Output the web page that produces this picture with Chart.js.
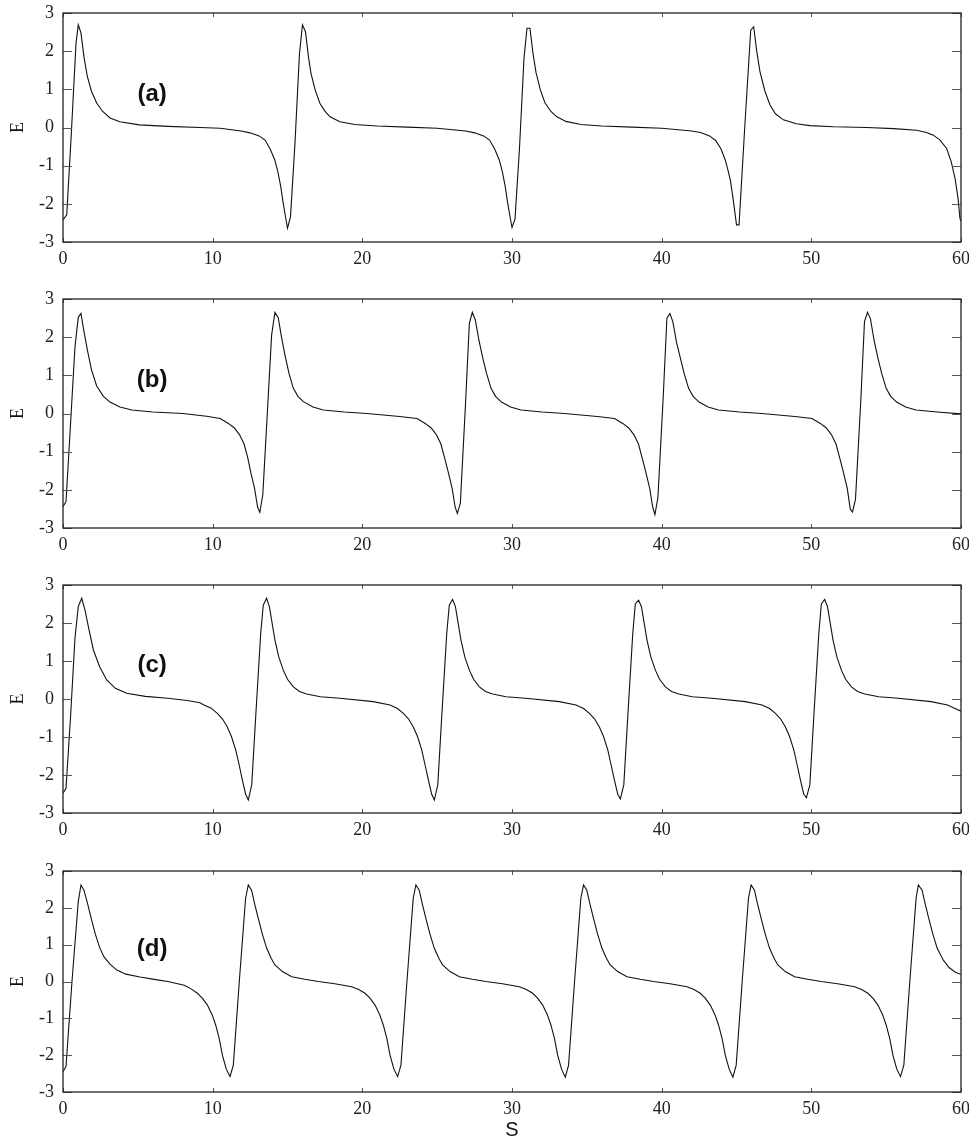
<!DOCTYPE html>
<html>
<head>
<meta charset="utf-8">
<script src="https://cdn.jsdelivr.net/npm/chart.js@4.4.1/dist/chart.umd.min.js"></script>
<style>
  body { margin: 0; background: #fff; }
  .panel { position: absolute; left: 0; }
</style>
</head>
<body>
<canvas id="chartA" class="panel" width="969" height="286" style="top:0px"></canvas>
<canvas id="chartB" class="panel" width="969" height="286" style="top:286px"></canvas>
<canvas id="chartC" class="panel" width="969" height="286" style="top:572px"></canvas>
<canvas id="chartD" class="panel" width="969" height="286" style="top:858px"></canvas>
<script>
// values: S on the x axis, E on the y axis
const xTicks = [0, 10, 20, 30, 40, 50, 60];
const yTicks = [-3, -2, -1, 0, 1, 2, 3];
const panelLabels = ['(a)', '(b)', '(c)', '(d)'];

const sA = [0, 0.25, 0.55, 0.87, 1.02, 1.2, 1.4, 1.63, 1.9, 2.25, 2.65, 3.14, 3.8, 5.1, 7, 9.15, 10.5,
    11.9, 12.5, 13.1, 13.5, 13.85, 14.15, 14.35, 14.55, 14.7, 14.85, 15.0, 15.2, 15.5, 15.8, 16.0, 16.2, 16.4, 16.57, 16.85, 17.17, 17.5, 17.84, 18.5, 19.5, 21, 23, 25,
    26.9, 27.5, 28.1, 28.5, 28.85, 29.15, 29.35, 29.55, 29.7, 29.85, 30.0, 30.2, 30.5, 30.8, 31.0, 31.2, 31.4, 31.6, 31.9, 32.2, 32.6, 33, 33.6, 34.6, 36, 38, 40,
    42, 42.6, 43.2, 43.6, 43.95, 44.25, 44.45, 44.6, 44.8, 45.0, 45.17, 45.55, 45.95, 46.15, 46.35, 46.57, 46.9, 47.24, 47.6, 48.13, 49, 49.9, 51.5, 53.7, 55.5,
    57.04, 57.7, 58.15, 58.6, 59.04, 59.35, 59.6, 59.8, 59.93, 60];
const eA = [-2.42, -2.29, -0.2, 2.21, 2.69, 2.48, 1.85, 1.33, 0.95, 0.64, 0.42, 0.25, 0.15, 0.07, 0.03, 0.0, -0.02,
    -0.09, -0.14, -0.22, -0.33, -0.57, -0.85, -1.15, -1.55, -1.95, -2.3, -2.64, -2.34, -0.41, 1.94, 2.69, 2.51, 1.85, 1.42, 0.98, 0.63, 0.43, 0.28, 0.15, 0.08, 0.04, 0.01, -0.02,
    -0.09, -0.14, -0.22, -0.33, -0.57, -0.85, -1.15, -1.55, -1.95, -2.3, -2.62, -2.4, -0.55, 1.8, 2.6, 2.6, 1.95, 1.45, 0.98, 0.65, 0.42, 0.28, 0.16, 0.08, 0.04, 0.01, -0.02,
    -0.09, -0.13, -0.22, -0.34, -0.55, -0.85, -1.15, -1.4, -1.95, -2.55, -2.55, 0.0, 2.55, 2.64, 2.0, 1.46, 0.95, 0.59, 0.36, 0.2, 0.1, 0.05, 0.02, 0.0, -0.03,
    -0.07, -0.13, -0.2, -0.33, -0.55, -0.9, -1.33, -1.85, -2.38, -2.45];

const sB = [0, 0.2, 0.5, 0.8, 1.02, 1.2, 1.4, 1.63, 1.9, 2.25, 2.7, 3.14, 3.8, 4.6, 6, 8, 9.6,
    10.5, 11.05, 11.45, 11.8, 12.1, 12.35, 12.55, 12.8, 13.0, 13.15, 13.35, 13.65, 13.94, 14.16, 14.38, 14.6, 14.83, 15.1, 15.39, 15.7, 16.06, 16.7, 17.39, 18.8, 20.3, 22.5,
    23.65, 24.2, 24.6, 24.95, 25.25, 25.5, 25.75, 26.0, 26.2, 26.35, 26.55, 26.9, 27.15, 27.35, 27.55, 27.8, 28.05, 28.3, 28.6, 28.9, 29.3, 29.9, 30.6, 32, 33.5, 35.7,
    36.85, 37.4, 37.8, 38.15, 38.45, 38.7, 38.95, 39.2, 39.4, 39.55, 39.75, 40.1, 40.35, 40.55, 40.75, 41.0, 41.25, 41.5, 41.8, 42.1, 42.5, 43.1, 43.8, 45.2, 46.7, 48.9,
    50.05, 50.6, 51.0, 51.35, 51.65, 51.9, 52.15, 52.4, 52.6, 52.75, 52.95, 53.3, 53.55, 53.75, 53.95, 54.2, 54.45, 54.7, 55.0, 55.3, 55.7, 56.3, 57, 58.4, 60];
const eB = [-2.44, -2.31, -0.3, 1.75, 2.52, 2.62, 2.15, 1.66, 1.15, 0.72, 0.45, 0.3, 0.17, 0.09, 0.04, 0.0, -0.07,
    -0.13, -0.26, -0.38, -0.56, -0.8, -1.17, -1.55, -1.96, -2.45, -2.59, -2.13, 0.0, 2.06, 2.65, 2.51, 2.0, 1.53, 1.05, 0.66, 0.45, 0.31, 0.17, 0.09, 0.04, 0.0, -0.08,
    -0.13, -0.26, -0.38, -0.56, -0.8, -1.17, -1.55, -1.96, -2.45, -2.62, -2.35, 0.3, 2.36, 2.65, 2.45, 1.9, 1.45, 1.05, 0.66, 0.45, 0.3, 0.17, 0.09, 0.04, 0.0, -0.08,
    -0.13, -0.26, -0.38, -0.56, -0.8, -1.17, -1.55, -1.96, -2.45, -2.65, -2.2, 0.4, 2.5, 2.62, 2.4, 1.85, 1.45, 1.05, 0.66, 0.45, 0.3, 0.17, 0.09, 0.04, 0.0, -0.08,
    -0.13, -0.26, -0.38, -0.56, -0.8, -1.17, -1.55, -1.96, -2.5, -2.58, -2.25, 0.3, 2.4, 2.65, 2.48, 1.9, 1.45, 1.05, 0.66, 0.45, 0.3, 0.17, 0.09, 0.04, -0.01];

const sC = [0, 0.2, 0.5, 0.8, 1.02, 1.25, 1.47, 1.75, 2.03, 2.45, 2.92, 3.5, 4.25, 5.5, 7, 8.3, 9.15,
    9.42, 9.9, 10.31, 10.65, 10.97, 11.25, 11.54, 11.78, 11.98, 12.2, 12.38, 12.61, 12.9, 13.21, 13.38, 13.6, 13.79, 13.95, 14.16, 14.42, 14.72, 15.0, 15.39, 15.8, 16.28, 17.2, 18.5, 20.73,
    21.85, 22.35, 22.74, 23.08, 23.4, 23.68, 23.97, 24.2, 24.41, 24.63, 24.81, 25.04, 25.33, 25.64, 25.81, 26.03, 26.22, 26.38, 26.59, 26.85, 27.15, 27.43, 27.82, 28.23, 28.71, 29.6, 30.9, 33.16,
    34.28, 34.78, 35.17, 35.51, 35.83, 36.11, 36.4, 36.63, 36.84, 37.06, 37.24, 37.47, 37.76, 38.07, 38.24, 38.46, 38.65, 38.81, 39.02, 39.28, 39.58, 39.86, 40.25, 40.66, 41.14, 42.05, 43.35, 45.59,
    46.71, 47.21, 47.6, 47.94, 48.26, 48.54, 48.83, 49.06, 49.27, 49.49, 49.67, 49.9, 50.19, 50.5, 50.67, 50.89, 51.08, 51.24, 51.45, 51.71, 52.01, 52.29, 52.68, 53.09, 53.57, 54.5, 55.8, 58.0,
    59.1, 59.6, 60];
const eC = [-2.48, -2.35, -0.5, 1.6, 2.43, 2.65, 2.34, 1.8, 1.29, 0.85, 0.5, 0.28, 0.15, 0.07, 0.02, -0.04, -0.1,
    -0.16, -0.24, -0.38, -0.52, -0.73, -0.98, -1.34, -1.75, -2.13, -2.5, -2.66, -2.26, -0.3, 1.73, 2.47, 2.65, 2.43, 2.05, 1.55, 1.1, 0.76, 0.52, 0.32, 0.2, 0.13, 0.06, 0.02, -0.07,
    -0.16, -0.25, -0.38, -0.52, -0.73, -0.98, -1.34, -1.75, -2.13, -2.5, -2.66, -2.26, -0.3, 1.73, 2.47, 2.62, 2.43, 2.05, 1.55, 1.1, 0.76, 0.52, 0.32, 0.2, 0.13, 0.06, 0.02, -0.07,
    -0.16, -0.25, -0.38, -0.52, -0.73, -0.98, -1.34, -1.75, -2.13, -2.5, -2.63, -2.26, -0.3, 1.73, 2.5, 2.6, 2.43, 2.05, 1.55, 1.1, 0.76, 0.52, 0.32, 0.2, 0.13, 0.06, 0.02, -0.07,
    -0.16, -0.25, -0.38, -0.52, -0.73, -0.98, -1.34, -1.75, -2.13, -2.5, -2.6, -2.26, -0.3, 1.73, 2.5, 2.62, 2.43, 2.05, 1.55, 1.1, 0.76, 0.52, 0.32, 0.2, 0.13, 0.06, 0.02, -0.07,
    -0.16, -0.25, -0.32];

const sD = [0, 0.2, 0.6, 1.02, 1.2, 1.4, 1.65, 1.89, 2.15, 2.45, 2.75, 3.14, 3.6, 4.2, 5.14, 6.2, 7.0,
    8.1, 8.56, 8.98, 9.31, 9.65, 9.96, 10.2, 10.44, 10.65, 10.91, 11.16, 11.38, 11.78, 12.2, 12.38, 12.6, 12.81, 13.05, 13.31, 13.61, 13.91, 14.16, 14.66, 15.28, 16.16, 17.06, 18.16,
    19.29, 19.76, 20.18, 20.51, 20.85, 21.16, 21.4, 21.64, 21.85, 22.11, 22.36, 22.58, 22.98, 23.4, 23.58, 23.8, 24.01, 24.25, 24.51, 24.81, 25.11, 25.36, 25.86, 26.48, 27.36, 28.26, 29.36,
    30.49, 30.96, 31.38, 31.71, 32.05, 32.36, 32.6, 32.84, 33.05, 33.31, 33.56, 33.78, 34.18, 34.6, 34.78, 35.0, 35.21, 35.45, 35.71, 36.01, 36.31, 36.56, 37.06, 37.68, 38.56, 39.46, 40.56,
    41.69, 42.16, 42.58, 42.91, 43.25, 43.56, 43.8, 44.04, 44.25, 44.51, 44.76, 44.98, 45.38, 45.8, 45.98, 46.2, 46.41, 46.65, 46.91, 47.21, 47.51, 47.76, 48.26, 48.88, 49.76, 50.66, 51.76,
    52.89, 53.36, 53.78, 54.11, 54.45, 54.76, 55.0, 55.24, 55.45, 55.71, 55.96, 56.18, 56.58, 57.0, 57.15, 57.4, 57.61, 57.85, 58.11, 58.41, 58.82, 59.2, 59.6, 60];
const eD = [-2.45, -2.31, 0.0, 2.17, 2.62, 2.48, 2.1, 1.71, 1.3, 0.92, 0.66, 0.47, 0.31, 0.2, 0.12, 0.05, 0.0,
    -0.1, -0.2, -0.32, -0.45, -0.64, -0.9, -1.18, -1.55, -2.0, -2.38, -2.58, -2.27, 0.0, 2.26, 2.62, 2.48, 2.1, 1.71, 1.3, 0.9, 0.63, 0.45, 0.27, 0.13, 0.06, 0.0, -0.06,
    -0.14, -0.22, -0.32, -0.45, -0.64, -0.9, -1.18, -1.55, -2.0, -2.38, -2.58, -2.27, 0.0, 2.26, 2.62, 2.48, 2.1, 1.71, 1.3, 0.9, 0.63, 0.45, 0.27, 0.13, 0.06, 0.0, -0.06,
    -0.14, -0.22, -0.32, -0.45, -0.64, -0.9, -1.18, -1.55, -2.0, -2.38, -2.6, -2.27, 0.0, 2.26, 2.62, 2.48, 2.1, 1.71, 1.3, 0.9, 0.63, 0.45, 0.27, 0.13, 0.06, 0.0, -0.06,
    -0.14, -0.22, -0.32, -0.45, -0.64, -0.9, -1.18, -1.55, -2.0, -2.38, -2.6, -2.27, 0.0, 2.26, 2.62, 2.48, 2.1, 1.71, 1.3, 0.9, 0.63, 0.45, 0.27, 0.13, 0.06, 0.0, -0.06,
    -0.14, -0.22, -0.32, -0.45, -0.64, -0.9, -1.18, -1.55, -2.0, -2.38, -2.58, -2.27, 0.0, 2.26, 2.62, 2.48, 2.1, 1.71, 1.3, 0.9, 0.58, 0.38, 0.26, 0.19];

const serif = "'Liberation Serif', 'Times New Roman', serif";
const sans = "'Liberation Sans', Arial, sans-serif";

// box round the plot, inward ticks on all four sides, and the panel letter
const framePlugin = {
    id: 'frame',
    afterDraw(chart) {
        const ctx = chart.ctx;
        const a = chart.chartArea;
        const x = chart.scales.x;
        const y = chart.scales.y;
        ctx.save();
        ctx.strokeStyle = '#555';
        ctx.lineWidth = 1;
        ctx.beginPath();
        yTicks.forEach(v => {
            const py = Math.round(y.getPixelForValue(v)) + 0.5;
            ctx.moveTo(a.left, py); ctx.lineTo(a.left + 9, py);
            ctx.moveTo(a.right, py); ctx.lineTo(a.right - 9, py);
        });
        xTicks.forEach(v => {
            const px = Math.round(x.getPixelForValue(v)) + 0.5;
            ctx.moveTo(px, a.bottom); ctx.lineTo(px, a.bottom - 4);
            ctx.moveTo(px, a.top); ctx.lineTo(px, a.top + 4);
        });
        ctx.stroke();
        ctx.strokeStyle = '#222';
        ctx.lineWidth = 1.3;
        ctx.strokeRect(a.left, a.top, a.right - a.left, a.bottom - a.top);

        const label = chart.options.plugins.frame.label;
        ctx.fillStyle = '#111';
        ctx.font = 'bold 24px ' + sans;
        ctx.textAlign = 'center';
        ctx.textBaseline = 'middle';
        ctx.fillText(label, x.getPixelForValue(5.95), y.getPixelForValue(0.88));
        ctx.restore();
    }
};

function makePanel(id, s, e, label, axisHeight, showTitle) {
    new Chart(document.getElementById(id), {
        type: 'line',
        data: {
            datasets: [{
                data: s.map((v, i) => ({ x: v, y: e[i] })),
                borderColor: '#111',
                borderWidth: 1.1,
                pointRadius: 0,
                tension: 0,
                fill: false
            }]
        },
        options: {
            responsive: false,
            animation: false,
            layout: { padding: { top: 13, right: 8, left: 0, bottom: 0 } },
            plugins: {
                legend: { display: false },
                tooltip: { enabled: false },
                frame: { label: label }
            },
            scales: {
                x: {
                    type: 'linear',
                    min: 0,
                    max: 60,
                    afterBuildTicks: sc => { sc.ticks = xTicks.map(v => ({ value: v })); },
                    afterFit: sc => {
                        sc.height = axisHeight;
                        sc.paddingLeft = 0;
                        sc.paddingRight = 0;
                    },
                    grid: { display: false, drawTicks: false },
                    border: { display: false },
                    ticks: { font: { family: serif, size: 18 }, color: '#222', padding: 6, maxRotation: 0 },
                    title: {
                        display: showTitle,
                        text: 'S',
                        color: '#111',
                        font: { family: sans, size: 20 },
                        padding: { top: 0, bottom: 2 }
                    }
                },
                y: {
                    min: -3,
                    max: 3,
                    afterBuildTicks: sc => { sc.ticks = yTicks.map(v => ({ value: v })); },
                    afterFit: sc => {
                        sc.width = 63;
                        sc.paddingTop = 0;
                        sc.paddingBottom = 0;
                    },
                    grid: { display: false, drawTicks: false },
                    border: { display: false },
                    ticks: { font: { family: serif, size: 18 }, color: '#222', padding: 9 },
                    title: {
                        display: true,
                        text: 'E',
                        color: '#111',
                        font: { family: serif, size: 18 },
                        padding: { top: 7, bottom: 0 }
                    }
                }
            }
        },
        plugins: [framePlugin]
    });
}

makePanel('chartA', sA, eA, panelLabels[0], 44, false);
makePanel('chartB', sB, eB, panelLabels[1], 44, false);
makePanel('chartC', sC, eC, panelLabels[2], 45, false);
makePanel('chartD', sD, eD, panelLabels[3], 52, true);
</script>
</body>
</html>
